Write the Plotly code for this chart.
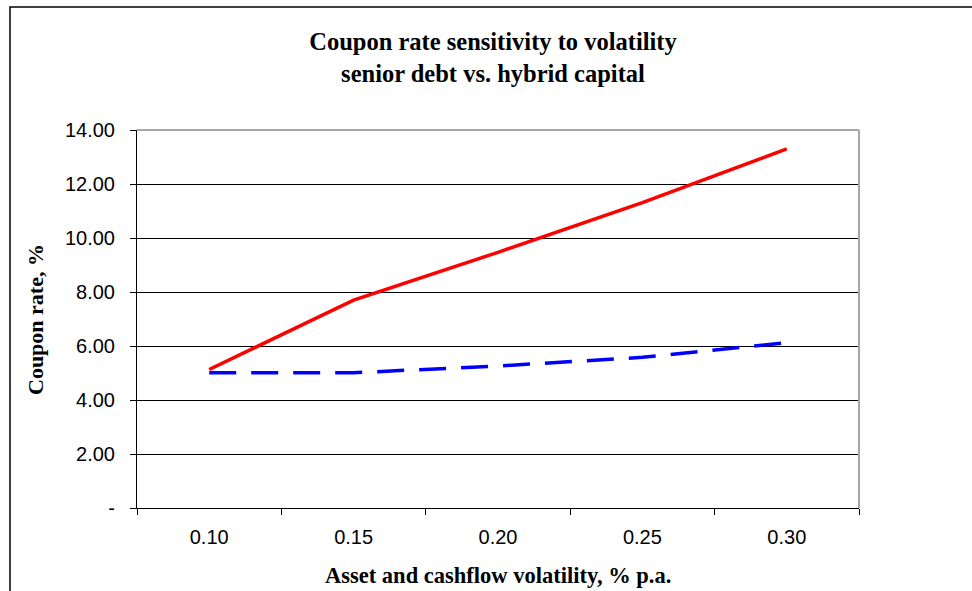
import plotly.graph_objects as go

# ---- data ----
volatility = ["0.10", "0.15", "0.20", "0.25", "0.30"]
senior_debt = [5.13, 7.70, 9.47, 11.31, 13.30]
hybrid_capital = [5.01, 5.01, 5.26, 5.58, 6.12]
y_tickvals = [0, 2, 4, 6, 8, 10, 12, 14]
y_ticktext = ["-", "2.00", "4.00", "6.00", "8.00", "10.00", "12.00", "14.00"]

W, H = 972, 591
L, R, T, B = 137, 859, 130, 508
pw, ph = R - L, B - T

def px(x):
    return (x - L) / pw

def py(y):
    return (B - y) / ph

serif = "Liberation Serif, Times New Roman, serif"
sans = "Liberation Sans, Arial, sans-serif"

fig = go.Figure()
fig.add_trace(go.Scatter(x=volatility, y=senior_debt, mode="lines",
                         line=dict(color="#FF0000", width=3.5), name="Senior debt"))
fig.add_trace(go.Scatter(x=volatility, y=hybrid_capital, mode="lines",
                         line=dict(color="#0000FF", width=3.5, dash="27px,15px"),
                         name="Hybrid capital"))

fig.update_layout(
    width=W, height=H,
    margin=dict(l=L, r=W - R, t=T, b=H - B),
    paper_bgcolor="white", plot_bgcolor="white",
    showlegend=False,
    title=dict(text="<b>Coupon rate sensitivity to volatility<br>senior debt vs. hybrid capital</b>",
               x=493 / W, xanchor="center", y=1 - 50 / H, yanchor="middle",
               yref="container", xref="container",
               font=dict(family=serif, size=24.5, color="black")),
    xaxis=dict(type="category", range=[-0.5, 4.5], tickson="boundaries",
               ticks="outside", ticklen=6, tickcolor="black", tickwidth=1,
               showgrid=False, showline=True, linecolor="black", linewidth=1,
               tickfont=dict(family=sans, size=20, color="black"),
               ticklabelstandoff=11, zeroline=False),
    yaxis=dict(range=[0, 14], tickmode="array", tickvals=y_tickvals, ticktext=y_ticktext,
               ticks="outside", ticklen=6, tickcolor="black", tickwidth=1,
               showgrid=True, gridcolor="black", gridwidth=1,
               showline=True, linecolor="black", linewidth=1, zeroline=False,
               tickfont=dict(family=sans, size=20, color="black"),
               ticklabelstandoff=11),
)

# plot frame top/right (gray)
fig.add_shape(type="line", xref="paper", yref="paper", x0=0, x1=1, y0=1, y1=1,
              line=dict(color="#A6A6A6", width=2))
fig.add_shape(type="line", xref="paper", yref="paper", x0=1, x1=1, y0=0, y1=1,
              line=dict(color="#A6A6A6", width=2))
# outer chart border
fig.add_shape(type="rect", xref="paper", yref="paper",
              x0=px(10), x1=px(990), y0=py(610), y1=py(7),
              line=dict(color="black", width=1.5))

fig.add_annotation(text="<b>Asset and cashflow volatility, % p.a.</b>",
                   xref="paper", yref="paper", x=px(498), y=py(575),
                   showarrow=False, xanchor="center", yanchor="middle",
                   font=dict(family=serif, size=22.5, color="black"))
fig.add_annotation(text="<b>Coupon rate, %</b>", textangle=-90,
                   xref="paper", yref="paper", x=px(35), y=py(319),
                   showarrow=False, xanchor="center", yanchor="middle",
                   font=dict(family=serif, size=22, color="black"))

fig.write_html("out.html")
